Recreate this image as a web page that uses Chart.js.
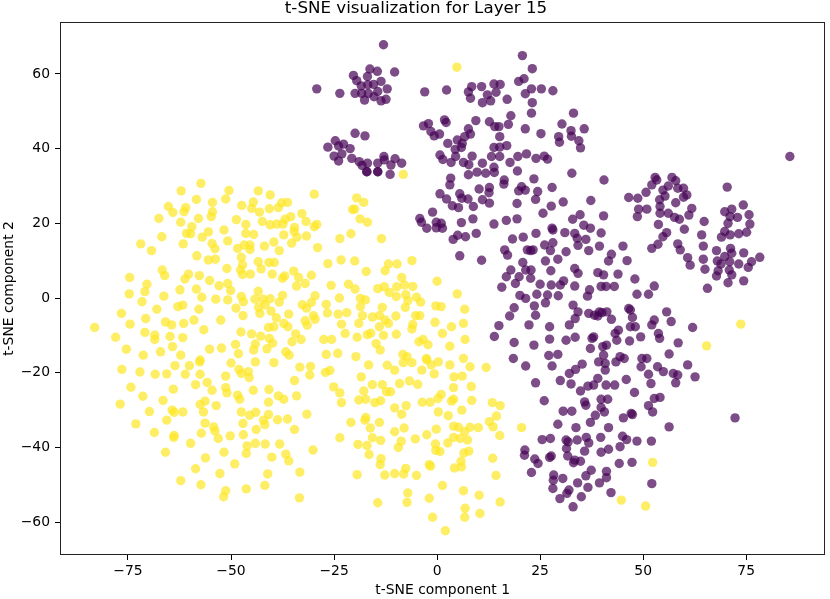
<!DOCTYPE html>
<html>
<head>
<meta charset="utf-8">
<script src="https://cdn.jsdelivr.net/npm/chart.js@4.4.1/dist/chart.umd.min.js"></script>
<style>
  html, body { margin:0; padding:0; background:#fff; }
  #wrap { width:830px; height:599px; }
</style>
</head>
<body>
<div id="wrap"><canvas id="tsne" width="830" height="599"></canvas></div>
<script>
const titleText = 't-SNE visualization for Layer 15';
const xLabel = 't-SNE component 1';
const yLabel = 't-SNE component 2';
const xTicks = [-75, -50, -25, 0, 25, 50, 75];
const yTicks = [-60, -40, -20, 0, 20, 40, 60];
const xRange = [-91.5, 94.2];
const yRange = [-68.8, 73.9];

// label 0 (purple)
const class0Points = [
  [-13.0,67.8],[-29.2,56.0],[-23.6,54.8],[-20.3,59.6],[-19.5,58.2],[-16.3,61.3],[-14.5,60.7],[-16.9,59.3],[-10.3,60.5],[-18.4,56.8],
  [-16.8,57.1],[-15.4,57.2],[-13.6,58.0],[-12.1,56.0],[-19.9,54.8],[-18.3,54.8],[-16.7,54.8],[-14.4,55.3],[-17.6,53.0],[-15.3,53.9],
  [-13.6,52.8],[-12.4,53.2],[-3.0,55.2],[2.3,55.7],[7.6,55.2],[8.4,56.6],[10.8,56.6],[13.8,57.3],[15.3,57.2],[14.3,55.1],
  [12.2,54.4],[8.1,53.5],[11.0,52.3],[13.0,52.8],[17.0,53.2],[20.7,64.9],[23.1,61.4],[19.8,58.0],[21.1,58.7],[21.4,54.7],
  [22.9,56.0],[25.3,56.0],[28.1,55.5],[23.1,52.3],[22.9,49.5],[33.1,49.5],[30.3,46.6],[32.5,44.8],[29.5,43.2],[29.7,41.7],
  [25.2,44.0],[21.4,45.3],[17.9,48.8],[17.3,46.5],[15.0,45.9],[14.0,45.9],[12.7,47.2],[9.4,47.5],[7.6,45.3],[8.1,43.9],
  [2.2,47.0],[1.8,47.7],[-2.1,46.7],[-3.3,46.1],[-1.5,44.6],[-0.7,43.4],[0.6,43.9],[15.2,43.2],[2.6,41.4],[4.9,42.3],
  [6.1,41.4],[5.9,40.3],[4.4,39.8],[6.7,43.2],[13.8,40.3],[15.2,40.4],[16.9,40.8],[0.7,38.3],[1.4,37.1],[3.4,36.3],
  [4.5,37.9],[6.4,36.3],[7.7,35.7],[8.5,38.0],[11.0,36.1],[13.2,37.9],[15.2,37.9],[13.8,35.0],[17.7,36.3],[19.6,37.9],
  [21.7,38.6],[24.0,37.4],[26.0,38.0],[26.8,37.2],[32.7,33.4],[-19.9,44.1],[-17.5,43.4],[-24.7,42.1],[-22.7,41.2],[-26.5,40.4],
  [-23.9,40.7],[-25.0,38.0],[-23.1,38.6],[-23.9,36.7],[-21.1,40.0],[-20.7,37.4],[-18.9,36.5],[-18.2,35.5],[-16.9,36.1],[-17.0,33.8],
  [-14.4,36.1],[-12.9,37.9],[-12.8,37.0],[-10.2,37.3],[-8.6,36.1],[-11.2,35.6],[-14.4,33.8],
  [-17.1,33.8],[-14.4,33.8],[-11.4,33.1],[3.3,32.1],[3.1,30.3],[0.7,27.9],[2.3,26.5],[3.7,24.7],[5.5,27.9],[6.0,26.7],
  [5.2,24.2],[7.5,26.5],[8.8,24.5],[7.6,33.0],[9.7,33.7],[11.8,33.4],[13.9,33.6],[16.3,31.6],[16.2,30.5],[19.5,34.0],
  [20.5,29.8],[21.4,28.9],[19.8,28.7],[10.2,29.2],[12.7,29.6],[12.6,28.2],[11.0,26.3],[12.7,25.4],[19.4,25.3],[-1.1,23.0],
  [-4.2,21.3],[-3.8,20.3],[-2.5,18.7],[-0.2,20.3],[1.0,20.0],[1.3,18.7],[-0.2,18.8],[5.9,20.2],[5.0,16.8],[3.9,15.7],
  [6.9,16.4],[9.5,17.3],[8.7,21.2],[13.8,19.8],[16.8,20.8],[19.4,21.2],[18.3,15.8],[20.9,16.3],[21.9,12.9],[16.4,12.9],
  [17.1,11.5],[5.5,11.3],[10.8,10.1],[20.8,9.5],[21.5,7.5],[17.9,7.5],[19.9,5.7],[16.8,5.7],[19.0,3.9],[15.7,2.9],
  [20.1,0.7],[21.5,-0.1],[18.7,-2.6],[17.6,-4.8],[15.0,-7.4],[13.9,-10.3],[18.7,-11.9],[18.5,-16.2],
  [35.7,45.3],[32.6,43.3],[34.4,42.1],[34.8,40.2],[40.5,31.6],[85.6,37.9],[37.3,26.1],[34.7,22.3],[32.9,21.1],[35.6,19.5],
  [37.2,18.7],[33.4,17.3],[34.0,16.0],[36.1,15.7],[34.2,14.1],[36.8,12.7],[40.4,22.0],[39.8,17.4],[39.4,13.9],[45.1,13.9],
  [42.3,11.7],[41.6,9.9],[46.1,10.0],[33.4,7.9],[34.2,6.6],[39.0,6.8],[40.4,6.2],[43.9,6.4],[33.4,3.2],[37.0,2.2],
  [39.8,3.1],[41.0,3.1],[43.0,3.1],[48.0,5.1],[48.5,1.0],[51.3,1.0],[52.7,3.2],[36.5,0.5],
  [46.5,26.9],[48.7,26.7],[50.7,28.3],[48.9,23.8],[50.9,23.8],[48.6,21.8],[52.1,30.3],[52.9,32.3],[53.3,31.6],[54.8,28.9],
  [57.0,32.3],[57.9,31.4],[56.1,30.0],[58.4,29.4],[59.8,29.4],[60.6,27.6],[59.8,27.0],[55.3,27.3],[54.0,26.3],[54.1,24.5],
  [54.1,22.7],[56.1,22.7],[57.9,25.5],[57.6,21.6],[58.8,21.1],[61.1,22.2],[61.8,24.0],[60.0,18.4],[53.7,19.7],[55.7,17.5],
  [54.8,16.4],[53.6,14.4],[52.1,13.3],[58.4,14.5],[59.0,12.9],[60.8,10.8],[61.4,8.8],[64.8,20.5],[64.2,16.9],[64.6,13.9],
  [64.6,10.4],[65.0,7.7],[65.6,2.6],[70.4,29.7],[69.8,23.1],[71.5,23.8],[71.1,21.8],[70.6,20.0],[72.9,21.6],[74.3,24.9],
  [75.7,22.3],[75.9,19.8],[75.1,17.6],[73.2,17.2],[71.1,16.9],[69.8,17.8],[69.0,16.3],[67.8,12.7],[71.2,13.3],[71.5,12.0],
  [69.8,11.1],[68.0,9.9],[68.9,9.1],[71.0,9.7],[73.2,9.1],[74.4,12.1],[76.3,9.7],[78.3,10.9],[75.5,8.2],[68.2,7.3],
  [67.8,5.9],[70.9,7.5],[71.5,6.2],[70.6,4.1],[74.4,4.6],
  [24.0,17.3],[28.1,18.2],[31.0,17.5],[26.1,14.2],[28.1,14.8],[27.5,12.7],[23.3,12.9],[22.7,12.7],[29.3,10.4],[26.3,9.9],
  [27.6,7.3],[31.3,12.4],[22.8,7.5],[22.7,5.3],[25.0,3.7],[27.7,3.5],[29.9,3.5],[30.7,4.6],[24.2,1.0],[26.8,0.8],
  [29.4,0.6],[23.6,-2.1],[23.9,-4.6],[26.3,-1.3],[22.3,-7.2],[27.3,-7.7],[27.3,-11.0],[23.5,-12.6],[27.1,-15.4],[29.3,-15.1],
  [27.9,-18.2],[23.9,-22.7],[29.9,-22.1],[32.5,-23.0],[31.3,-11.3],[32.1,-7.2],[33.0,-1.9],[33.5,-5.5],[34.2,-3.7],[33.5,-10.5],
  [37.2,-13.5],[38.0,-10.4],[37.6,-10.8],[36.8,-4.1],[38.2,-4.6],[39.4,-3.7],[40.0,-3.9],[41.2,-3.7],[42.3,-5.7],[39.0,-4.8],
  [40.2,-13.0],[41.1,-12.6],[40.4,-15.3],[39.2,-17.1],[40.8,-17.5],[40.8,-19.3],[43.4,-17.1],[44.0,-8.6],[43.2,-9.5],[43.6,-11.3],
  [46.7,-11.5],[49.4,-10.4],[46.9,-7.7],[48.1,-7.7],[46.9,-3.2],[47.4,-5.2],[46.5,-2.8],[52.1,-7.2],[52.7,-5.9],[53.7,-9.5],
  [54.0,-10.8],[55.7,-3.7],[56.8,-6.3],[58.5,-12.0],[56.3,-15.0],[62.0,-7.9],[60.8,-17.9],[62.6,-21.1],[57.3,-20.2],[58.4,-20.6],
  [57.9,-22.7],[54.9,-19.7],[53.5,-18.4],[51.9,-22.9],[51.3,-20.4],[49.7,-16.2],[50.9,-16.2],[49.5,-18.4],[44.4,-15.7],[45.4,-16.2],
  [45.9,-21.8],[43.1,-23.3],[41.0,-23.3],[39.0,-21.5],[38.0,-23.3],[36.6,-23.6],[35.2,-17.7],[33.6,-19.1],[32.1,-20.2],[21.5,-18.2],
  [26.0,-27.5],[30.6,-30.3],[32.7,-30.3],[35.8,-27.8],[36.1,-28.7],[34.8,-24.9],[39.8,-27.1],[41.4,-27.1],[39.8,-29.3],[40.6,-30.5],
  [38.4,-31.4],[37.2,-33.3],[33.7,-34.7],[29.3,-33.8],[41.6,-34.7],[45.2,-32.1],[47.1,-30.9],[47.4,-31.2],[47.9,-25.3],[51.3,-28.8],
  [52.7,-26.9],[54.1,-26.6],[52.3,-30.5],[56.3,-34.5],[25.5,-37.9],[27.5,-37.6],[31.3,-38.0],[31.8,-38.5],[34.0,-38.0],[36.2,-37.3],
  [36.8,-38.8],[39.7,-37.3],[45.0,-37.0],[46.0,-37.9],[48.5,-38.3],[52.0,-38.3],[44.4,-39.8],[41.6,-40.5],[39.8,-41.3],[35.8,-41.0],
  [31.4,-40.3],[31.7,-42.3],[33.4,-43.4],[34.8,-43.7],[33.1,-44.1],[27.3,-42.7],[27.7,-42.3],[21.3,-40.7],[21.2,-42.1],[23.7,-43.1],
  [24.5,-44.3],[22.9,-46.7],[28.3,-47.4],[28.2,-48.8],[28.1,-51.0],[30.5,-48.3],[37.4,-46.1],[36.1,-47.6],[41.1,-46.4],[41.1,-48.1],
  [39.4,-49.5],[44.2,-44.3],[47.3,-44.0],[52.1,-49.7],[34.1,-49.5],[32.0,-51.4],[31.5,-52.3],[29.8,-53.7],[35.0,-53.2],[36.6,-50.7],
  [42.2,-52.1],[33.0,-55.9],
  [23.5,31.9],[24.4,28.5],[27.9,29.6],[23.9,26.4],[30.6,25.7],[27.7,24.6],[25.7,22.7],[27.9,18.7],[72.3,-32.1]
];

// label 1 (yellow)
const class1Points = [
  [-57.3,30.7],[-62.1,28.7],[-50.5,28.8],[-43.4,28.7],[-40.5,27.6],[-29.8,27.8],[-58.4,26.4],[-51.3,26.5],[-54.5,25.6],[-65.2,24.5],
  [-61.0,24.2],[-61.4,23.1],[-64.1,22.9],[-54.5,23.1],[-54.8,21.8],[-47.4,24.8],[-44.6,25.7],[-45.0,24.0],[-43.1,23.0],[-40.7,23.9],
  [-38.5,24.2],[-37.7,25.5],[-36.3,25.6],[-67.5,21.3],[-62.2,20.3],[-57.9,21.3],[-59.5,19.1],[-60.8,17.3],[-59.8,17.2],[-55.5,17.7],
  [-57.0,16.3],[-51.7,18.2],[-48.7,21.0],[-46.4,19.7],[-42.4,20.5],[-40.5,19.6],[-38.9,19.8],[-37.4,19.8],[-36.9,21.1],[-35.5,21.8],
  [-32.8,22.6],[-31.8,20.5],[-34.6,18.9],[-34.7,17.8],[-34.0,16.3],[-31.7,16.6],[-29.8,19.1],[-29.2,19.7],[-37.2,16.9],[-44.5,17.0],
  [-46.4,17.3],[-66.8,16.4],[-71.9,14.5],[-69.3,12.7],[-61.6,14.5],[-54.6,14.6],[-53.9,13.2],[-50.8,15.3],[-48.4,13.3],[-46.8,14.2],
  [-45.4,14.2],[-45.4,13.0],[-41.9,13.9],[-39.6,15.0],[-38.3,12.7],[-35.3,14.7],[-29.0,13.5],[-58.3,11.3],[-55.5,10.2],[-53.8,10.4],
  [-47.5,10.9],[-47.2,8.9],[-51.0,7.9],[-47.7,7.5],[-47.2,6.3],[-45.3,6.4],[-43.4,9.7],[-42.7,7.8],[-40.8,9.5],[-39.5,9.5],
  [-40.0,6.4],[-66.7,7.5],[-66.1,6.0],[-74.6,5.5],[-70.4,3.7],[-70.9,1.7],[-74.7,1.1],[-71.6,-1.0],[-76.6,-4.1],[-74.5,-7.0],
  [-70.7,-5.5],[-68.0,-3.0],[-66.3,0.5],[-62.4,2.2],[-60.3,6.4],[-61.2,5.1],[-57.7,6.0],[-55.2,4.7],[-52.9,3.3],[-50.8,3.9],
  [-50.1,2.0],[-58.4,2.4],[-57.1,0.2],[-53.7,-0.3],[-50.8,-0.5],[-47.5,0.4],[-47.0,-1.0],[-43.4,1.8],[-44.2,-0.3],[-42.2,-0.3],
  [-40.5,-0.2],[-37.5,0.7],[-38.3,-1.1],[-62.9,-2.3],[-61.7,-1.9],[-57.8,-3.0],[-48.8,-2.7],[-47.1,-4.7],[-43.3,-2.5],[-41.7,-1.8],
  [-43.0,-4.1],[-40.3,-3.5],[-39.0,-5.3],[-36.0,-4.3],[-32.7,-1.8],[-31.7,-2.7],[-30.5,-1.2],[-29.6,0.6],[-30.0,-4.7],[-32.0,-6.1],
  [-31.5,-7.3],[-29.6,-5.7],[-37.5,5.3],[-37.0,5.9],[-34.8,7.2],[-33.6,5.5],[-32.0,3.9],[-30.5,6.1],[-34.1,3.2],[-59.0,-5.9],
  [-61.5,-6.8],[-65.9,-6.4],[-64.4,-7.2],[-56.6,-8.5],[-52.5,-5.9],[-47.6,-9.1],[-45.0,-9.6],[-42.8,-10.2],[-40.9,-7.9],[-39.6,-7.7],
  [-37.2,-6.8],[-36.2,-7.7],[-34.3,-9.6],[-35.2,-11.7],[-33.0,-11.1],[-40.7,-10.8],[-39.9,-12.1],[-44.1,-12.3],[-44.5,-13.9],[-41.3,-13.6],
  [-48.9,-12.4],[-48.2,-14.9],[-52.3,-13.4],[-55.2,-13.7],[-70.9,-9.2],[-68.5,-9.9],[-68.5,-11.1],[-64.8,-10.3],[-61.7,-10.6],[-64.2,-13.0],
  [-67.1,-14.4],[-71.3,-15.3],[-75.4,-13.7],[-78.0,-10.5],[-83.1,-7.9],[-62.2,-15.3],[-57.5,-16.6],[-36.7,-14.4],[-35.9,-15.3],
  [-76.5,-19.1],[-72.1,-19.8],[-68.4,-20.4],[-65.6,-20.3],[-63.6,-18.1],[-61.1,-20.4],[-60.1,-18.1],[-57.6,-17.1],[-57.5,-20.4],[-50.0,-17.4],
  [-48.1,-19.1],[-47.5,-20.2],[-45.8,-19.7],[-45.6,-21.3],[-44.1,-17.1],[-39.6,-17.3],[-51.3,-20.9],[-58.6,-23.2],[-55.8,-22.6],[-54.6,-24.7],
  [-51.3,-24.0],[-51.0,-25.4],[-74.3,-23.9],[-71.4,-26.3],[-64.0,-24.4],[-66.5,-27.4],[-76.9,-28.4],[-69.8,-30.4],[-64.3,-30.0],[-63.8,-30.6],
  [-61.7,-30.5],[-57.5,-28.5],[-56.3,-27.6],[-56.7,-30.5],[-53.6,-28.8],[-48.4,-26.0],[-47.9,-27.1],[-44.6,-24.7],[-40.8,-24.5],[-40.9,-27.9],
  [-38.5,-26.2],[-37.2,-27.1],[-34.1,-26.2],[-34.6,-22.1],[-33.3,-18.5],[-30.7,-18.3],[-30.9,-20.6],[-47.5,-30.5],[-45.5,-31.4],[-44.0,-30.6],
  [-40.9,-31.2],[-42.1,-32.7],[-41.8,-33.9],[-38.7,-32.6],[-36.3,-32.4],[-31.6,-31.1],[-34.6,-35.2],[-73.1,-33.7],[-68.6,-36.0],[-65.6,-32.7],
  [-63.8,-36.8],[-63.9,-37.3],[-59.8,-38.9],[-57.2,-36.2],[-56.3,-33.5],[-54.2,-34.5],[-53.9,-35.6],[-53.1,-37.6],[-50.2,-36.9],[-47.1,-33.6],
  [-47.0,-36.6],[-43.9,-35.2],[-46.1,-39.6],[-46.3,-41.6],[-44.1,-38.9],[-41.7,-39.1],[-38.2,-39.1],[-36.7,-41.8],[-36.0,-43.6],[-40.1,-42.6],
  [-30.1,-40.7],[-33.3,-46.6],[-41.1,-47.1],[-41.8,-50.2],[-46.3,-51.1],[-51.3,-51.6],[-51.8,-53.2],[-57.3,-50.0],[-62.2,-48.9],[-58.6,-45.7],
  [-56.2,-42.8],[-52.7,-47.0],[-51.7,-41.3],[-49.1,-44.4],[-65.9,-41.3],[-33.4,-53.5],
  [-8.2,33.1],[-19.5,26.8],[-17.8,25.6],[-20.5,23.7],[-20.0,23.8],[-18.7,21.2],[-16.9,20.3],[-20.9,17.2],[-23.6,15.9],[-13.5,15.9],
  [-26.5,9.2],[-23.3,10.2],[-20.0,9.9],[-17.2,7.1],[-12.6,7.3],[-11.8,9.1],[-9.7,9.1],[-6.1,10.0],[-8.6,5.5],[-7.9,3.5],
  [-5.9,3.1],[0.0,4.5],[4.9,1.1],[6.7,-3.0],[6.4,-6.8],[6.8,-11.1],[3.1,-12.9],[3.5,-7.7],[1.3,-9.5],[-0.5,-6.5],
  [-0.3,-2.1],[1.0,-2.3],[-4.0,-1.1],[-5.0,0.2],[-7.6,0.9],[-7.1,-0.7],[-7.7,-2.5],[-9.9,0.4],[-11.6,1.5],[-12.8,3.0],
  [-14.4,2.5],[-9.8,3.0],[-25.7,3.4],[-21.5,3.7],[-19.9,2.4],[-23.7,0.0],[-18.6,-0.1],[-17.4,-0.5],[-18.6,-2.3],[-18.1,-4.7],
  [-15.7,-5.1],[-14.0,-4.7],[-13.3,-2.5],[-12.6,-5.9],[-10.0,-4.8],[-11.8,-6.8],[-14.0,-7.7],[-13.0,-10.0],[-16.1,-9.4],[-16.9,-9.8],
  [-19.0,-6.8],[-23.2,-7.0],[-22.3,-9.5],[-19.4,-10.5],[-9.9,-9.7],[-5.9,-7.1],[-6.1,-8.3],[-5.2,-4.7],[-4.2,-4.7],[-4.4,-11.7],
  [-2.2,-12.5],[-3.4,-11.1],[-14.8,-12.2],[-13.8,-13.9],[-26.9,-1.7],[-24.0,-4.3],[-26.6,-4.0],[-21.9,-3.9],[-27.5,-11.1],[-25.6,-11.1],
  [-26.9,-15.1],[-24.1,-14.8],[-19.7,-15.7],[-8.3,-15.1],[-2.6,-16.2],[6.4,-16.2],[-7.3,-15.7],
  [-16.6,-17.9],[-27.1,-19.9],[-26.0,-19.4],[-18.4,-21.1],[-25.1,-23.8],[-23.6,-25.4],[-23.2,-28.0],[-19.0,-27.3],[-17.8,-24.9],[-17.3,-27.1],
  [-15.7,-23.2],[-13.3,-23.2],[-15.1,-28.0],[-13.7,-27.5],[-12.3,-25.1],[-11.3,-25.1],[-12.1,-18.0],[-10.3,-19.3],[-8.2,-17.3],[-6.1,-17.3],
  [-2.5,-16.6],[-1.4,-17.9],[0.3,-17.1],[-0.7,-20.3],[-3.7,-19.3],[3.1,-17.9],[8.0,-18.4],[4.1,-21.1],[6.1,-20.9],[11.9,-18.6],
  [-9.1,-22.9],[-6.7,-22.2],[-4.7,-23.1],[4.0,-24.0],[8.3,-23.7],[1.0,-25.8],[0.2,-26.9],[3.5,-27.6],[4.0,-27.1],[8.4,-27.4],
  [-3.6,-27.9],[-1.7,-27.9],[-10.3,-29.4],[-7.5,-28.8],[-8.6,-31.1],[0.3,-30.5],[2.7,-31.5],[6.0,-30.0],[13.4,-28.0],[15.3,-28.8],
  [14.4,-31.6],[12.7,-33.1],[13.6,-34.5],[-20.9,-33.3],[-17.3,-32.0],[-17.5,-32.7],[-14.0,-33.3],[-16.2,-34.8],[-23.6,-37.4],[-19.2,-39.2],
  [-17.0,-39.5],[-15.7,-37.4],[-13.7,-38.1],[-10.3,-35.8],[-8.0,-34.8],[-8.7,-38.3],[-9.4,-40.0],[-5.3,-37.7],[-2.5,-36.6],[-0.2,-35.1],
  [-0.4,-39.1],[-0.3,-40.8],[0.7,-41.1],[2.6,-38.8],[4.0,-34.3],[5.2,-34.6],[6.7,-35.8],[8.0,-34.6],[10.0,-34.7],[4.0,-37.3],
  [5.6,-37.6],[7.4,-38.0],[6.5,-41.5],[7.7,-41.0],[15.2,-36.8],[20.5,-34.7],[-16.5,-41.9],[-13.6,-43.0],[-13.8,-44.6],[-19.4,-47.3],
  [-12.7,-47.4],[-10.3,-47.0],[-8.1,-47.1],[-7.6,-45.6],[-5.0,-47.5],[-1.9,-44.6],[-1.6,-45.0],[4.2,-45.5],[5.8,-43.7],[5.9,-45.2],
  [13.5,-42.9],[14.3,-47.5],[1.3,-50.2],[-7.1,-52.2],[-7.3,-54.7],[-1.9,-53.6],[-14.4,-54.8],[6.4,-51.6],[10.2,-52.8],[6.8,-56.3],
  [6.7,-58.7],[10.4,-57.7],[15.3,-54.6],[-1.1,-58.7],[2.0,-62.3],
  [4.8,61.8],[52.3,-44.0],[44.7,-54.1],[50.6,-55.7],[73.7,-7.0],[65.4,-12.8]
];

const FONT = 'DejaVu Sans, Verdana, sans-serif';
const toXY = pts => pts.map(p => ({x:p[0], y:p[1]}));
const fmt = v => v < 0 ? '\u2212' + Math.abs(v) : String(v);

// matplotlib style box around the axes
const frame = {
  id:'frame',
  afterDraw(chart){
    const {ctx, chartArea:a} = chart;
    ctx.save();
    ctx.strokeStyle = '#222';
    ctx.lineWidth = 1;
    ctx.strokeRect(Math.round(a.left)+0.5, Math.round(a.top)+0.5, Math.round(a.right-a.left)-1, Math.round(a.bottom-a.top)-1);
    ctx.restore();
  }
};

function axisOpts(ticks, range, label, horizontal){
  return {
    type:'linear', min:range[0], max:range[1],
    afterFit(s){ if (horizontal) s.height = 44; else s.width = 60; },
    afterBuildTicks(s){ s.ticks = ticks.map(v => ({value:v})); },
    grid:{ drawOnChartArea:false, drawTicks:true, tickLength:5, color:'#000', lineWidth:1 },
    border:{ display:false },
    ticks:{ padding: horizontal ? 3 : 5, color:'#000', autoSkip:false, maxRotation:0,
      font:{ family:FONT, size:13.9 }, callback: v => fmt(v) },
    title:{ display:true, text:label, color:'#000', font:{ family:FONT, size:13.9, lineHeight:1.2 },
      padding: horizontal ? {top:0, bottom:0} : {top:1, bottom:0} }
  };
}

new Chart(document.getElementById('tsne').getContext('2d'), {
  type:'scatter',
  data:{ datasets:[
    { data:toXY(class0Points), backgroundColor:'rgba(68,1,84,0.7)', borderWidth:0, pointRadius:4.7, pointHoverRadius:4.7 },
    { data:toXY(class1Points), backgroundColor:'rgba(253,231,37,0.7)', borderWidth:0, pointRadius:4.7, pointHoverRadius:4.7 }
  ]},
  options:{
    responsive:false, animation:false, devicePixelRatio:1,
    layout:{ padding:{ left:0, right:-2, top:0, bottom:0 } },
    plugins:{
      legend:{ display:false }, tooltip:{ enabled:false },
      title:{ display:true, text:titleText, color:'#000', font:{ family:FONT, size:16.7, weight:'normal', lineHeight:1 },
        padding:{ top:0, bottom:5.3 } }
    },
    scales:{
      x: axisOpts(xTicks, xRange, xLabel, true),
      y: axisOpts(yTicks, yRange, yLabel, false)
    }
  },
  plugins:[frame]
});
</script>
</body>
</html>
